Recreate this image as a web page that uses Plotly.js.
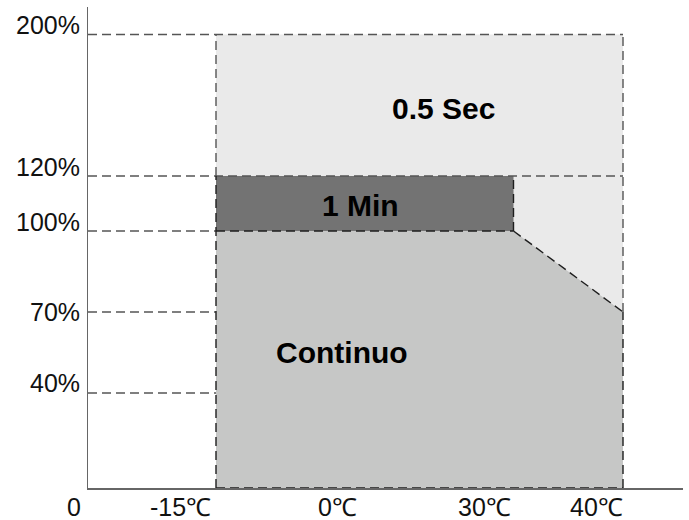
<!DOCTYPE html>
<html>
<head>
<meta charset="utf-8">
<script src="https://cdn.plot.ly/plotly-3.0.1.min.js"></script>
<style>html,body{margin:0;padding:0;background:#fff;}#chart{width:689px;height:520px;}</style>
</head>
<body>
<div id="chart"></div>
<script>
// ---- data ----
const tempMin = -15;            // start of operating range (℃)
const tempKnee = 30;            // end of full rating (℃)
const tempMax = 40;             // end of operating range (℃)
const loadContinuous = 100;     // % continuous up to knee
const loadContinuousMax = 70;   // % continuous at tempMax
const load1Min = 120;           // % for 1 minute
const load05Sec = 200;          // % for 0.5 s
const yTickValues = [200, 120, 100, 70, 40];
const yTickLabels = ['200%', '120%', '100%', '70%', '40%'];
const xTickValues = [-15, 0, 30, 40];
const xTickLabels = ['-15℃', '0℃', '30℃', '40℃'];
const regionLabels = ['0.5 Sec', '1 Min', 'Continuo'];

// ---- schematic (non-linear) scales of the drawing ----
const yIn = [0, 40, 70, 100, 120, 200], yOut = [0, 95, 176, 257, 312, 453.5];
const xIn = [-15, 0, 30, 40], xOut = [128, 269, 425.5, 535];
function interp(v, a, b) {
  if (v === null) return null;
  for (let i = 0; i < a.length - 1; i++) {
    if (v <= a[i + 1] || i === a.length - 2) {
      return b[i] + (v - a[i]) * (b[i + 1] - b[i]) / (a[i + 1] - a[i]);
    }
  }
}
const X = v => interp(v, xIn, xOut);
const Y = v => interp(v, yIn, yOut);
const AX = 0; // position of the y axis (origin)

const font = 'Liberation Sans, Arial, Helvetica, sans-serif';
const dashOuter = {color: '#555555', width: 1.4, dash: '9px,5px'};
const dashInner = {color: '#1e1e1e', width: 1.4, dash: '9px,5px'};

function poly(pts, fill) {
  return {x: pts.map(p => X(p[0])), y: pts.map(p => Y(p[1])), mode: 'lines', fill: 'toself',
    fillcolor: fill, line: {width: 0}, hoverinfo: 'skip', showlegend: false};
}
function segs(list, line) {
  const x = [], y = [];
  list.forEach(s => { x.push(s[0], s[2], null); y.push(s[1], s[3], null); });
  return {x, y, mode: 'lines', line, hoverinfo: 'skip', showlegend: false, connectgaps: false};
}

const traces = [
  poly([[tempMin, 0], [tempMax, 0], [tempMax, load05Sec], [tempMin, load05Sec]], '#eaeaea'),
  poly([[tempMin, loadContinuous], [tempKnee, loadContinuous], [tempKnee, load1Min], [tempMin, load1Min]], '#737373'),
  poly([[tempMin, 0], [tempMax, 0], [tempMax, loadContinuousMax], [tempKnee, loadContinuous], [tempMin, loadContinuous]], '#c6c7c6'),
  // guide lines and 0.5 s outline
  segs([
    [AX, Y(load05Sec), X(tempMax), Y(load05Sec)],
    [AX, Y(load1Min), X(tempMax), Y(load1Min)],
    [AX, Y(loadContinuousMax), X(tempMin), Y(loadContinuousMax)],
    [AX, Y(40), X(tempMin), Y(40)],
    [AX, Y(loadContinuous), X(tempMin), Y(loadContinuous)],
    [X(tempMin), Y(load1Min), X(tempMin), Y(load05Sec)],
    [X(tempMax), Y(loadContinuousMax), X(tempMax), Y(load05Sec)]
  ], dashOuter),
  // continuous and 1 min outlines
  segs([
    [X(tempMin), Y(0), X(tempMin), Y(load1Min)],
    [X(tempMin), Y(loadContinuous), X(tempKnee), Y(loadContinuous)],
    [X(tempKnee), Y(loadContinuous), X(tempKnee), Y(load1Min)],
    [X(tempKnee), Y(loadContinuous), X(tempMax), Y(loadContinuousMax)],
    [X(tempMax), Y(0), X(tempMax), Y(loadContinuousMax)],
    [X(tempMin), Y(0), X(tempMax), Y(0)]
  ], dashInner)
];

const tickFont = {family: font, size: 25, color: '#111'};
const yShift = [9.5, 9, 9, 0, 10];
const xShift = [-5, 0, -3, 0];
const annotations = [];
yTickValues.forEach((v, i) => annotations.push({
  x: AX, y: Y(v), xref: 'x', yref: 'y', text: yTickLabels[i], showarrow: false,
  xanchor: 'right', yanchor: 'middle', xshift: -6, yshift: yShift[i], font: tickFont
}));
annotations.push({x: AX, y: 0, xref: 'x', yref: 'y', text: '0', showarrow: false,
  xanchor: 'right', yanchor: 'middle', xshift: -5, yshift: -19, font: tickFont});
xTickValues.forEach((v, i) => annotations.push({
  x: X(v), y: 0, xref: 'x', yref: 'y', text: xTickLabels[i], showarrow: false,
  xanchor: 'right', yanchor: 'middle', xshift: xShift[i] + 2, yshift: -19, font: tickFont
}));
const labelPos = [[355, 380], [272, 282.5], [254, 136]];
regionLabels.forEach((t, i) => annotations.push({
  x: labelPos[i][0], y: labelPos[i][1], xref: 'x', yref: 'y', text: '<b>' + t + '</b>', showarrow: false,
  xanchor: 'center', yanchor: 'middle', font: {family: font, size: 30, color: '#000'}
}));

const layout = {
  width: 689, height: 520,
  margin: {l: 88, r: 6, t: 7, b: 32, pad: 0},
  paper_bgcolor: '#fff', plot_bgcolor: '#fff',
  showlegend: false,
  xaxis: {range: [0, 595], showgrid: false, zeroline: false, showticklabels: false, ticks: '',
    showline: true, linecolor: '#666', linewidth: 1.5, fixedrange: true},
  yaxis: {range: [0, 481], showgrid: false, zeroline: false, showticklabels: false, ticks: '',
    showline: true, linecolor: '#666', linewidth: 1.5, fixedrange: true},
  annotations
};
Plotly.newPlot('chart', traces, layout, {staticPlot: true, displayModeBar: false});
</script>
</body>
</html>
